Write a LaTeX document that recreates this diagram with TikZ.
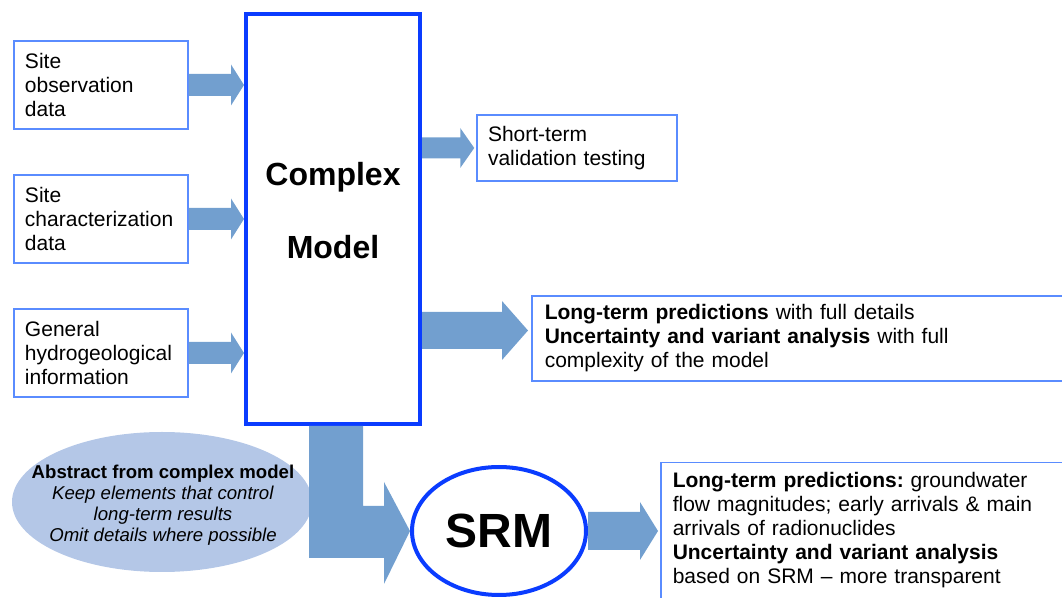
\documentclass[tikz,border=0pt]{standalone}
\usepackage{fontspec}
\setmainfont{Liberation Sans}
\usetikzlibrary{calc,shapes.geometric}
\frenchspacing

\definecolor{boxblue}{RGB}{90,140,255}
\definecolor{modelblue}{RGB}{10,60,255}
\definecolor{flowblue}{RGB}{114,159,207}
\definecolor{abstractblue}{RGB}{180,199,231}

% block arrow: from, tip, shaft half width, head half width, head length
\newcommand{\fatarrow}[5]{%
  \fill[flowblue] ($(#1)+(0,#3)$) -- ($(#2)+(-#5,#3)$) -- ($(#2)+(-#5,#4)$) -- (#2)
    -- ($(#2)+(-#5,-#4)$) -- ($(#2)+(-#5,-#3)$) -- ($(#1)+(0,-#3)$) -- cycle;}

\begin{document}
\begin{tikzpicture}[x=0.5pt, y=-0.5pt,
	every node/.style={font=\fontsize{10.5}{12}\selectfont},
	inbox/.style={draw=boxblue, line width=0.75pt, text width=76pt, inner xsep=5.5pt, minimum height=44pt, align=left},
	outbox/.style={draw=boxblue, line width=0.75pt, align=left}]
	\path[use as bounding box] (0,0) rectangle (1062,598);
	\clip (0,0) rectangle (1062,598);

	\node[inbox] (obs) at (101,85) {Site\\observation\\data};
	\node[inbox] (char) at (101,219) {Site\\characterization\\data};
	\node[inbox] (hydro) at (101,353) {General\\hydrogeological\\information};

	\node[draw=modelblue, line width=2pt, minimum width=87pt, minimum height=205pt] (cm) at (333,219) {};
	\node[font=\fontsize{16}{36.5}\selectfont\bfseries, align=center] (cmtext) at (333,211) {Complex\\Model};

	\node[outbox, text width=89pt, inner xsep=5.5pt, minimum height=33pt] (st) at (577,148) {Short-term\\validation testing};
	\node[outbox, anchor=west, text width=257pt, inner xsep=6.5pt, minimum height=42.5pt] (lt1) at (531,338.5)
		{\textbf{Long-term predictions} with full details\\
		\textbf{Uncertainty and variant analysis} with full\\
		complexity of the model};

	\node[fill=abstractblue, ellipse, inner sep=0pt, minimum width=150pt, minimum height=70pt] (abs) at (162,502) {};
	\node[font=\fontsize{9.3}{10.5}\selectfont, align=center] (abstext) at (163,505)
		{\textbf{Abstract from complex model}\\
		\textit{Keep elements that control}\\
		\textit{long-term results}\\
		\textit{Omit details where possible}};

	\node[ellipse, draw=modelblue, line width=2pt, minimum width=87pt, minimum height=64pt,
		font=\fontsize{24}{28}\selectfont\bfseries] (srm) at (499,531) {SRM};

	\node[outbox, anchor=north west, text width=200pt, inner xsep=6pt, inner ysep=4.8pt] (lt2) at (660,462)
		{\textbf{Long-term predictions:} groundwater\\
		flow magnitudes; early arrivals \& main\\
		arrivals of radionuclides\\
		\textbf{Uncertainty and variant analysis}\\
		based on SRM -- more transparent\\
		\mbox{}};

	\coordinate (obs in) at (obs.east -| cm.west);
	\coordinate (char in) at (char.east -| cm.west);
	\coordinate (hydro in) at (hydro.east -| cm.west);
	\fatarrow{obs.east}{obs in}{11}{20.5}{13}
	\fatarrow{char.east}{char in}{11}{20.5}{13}
	\fatarrow{hydro.east}{hydro in}{11}{20.5}{13}

	\coordinate (st tip) at ($(st.west)+(-2,0)$);
	\coordinate (st out) at (st tip -| cm.east);
	\fatarrow{st out}{st tip}{10.5}{20}{14}

	\coordinate (lt1 tip) at ($(lt1.west)+(-3,-8)$);
	\coordinate (lt1 out) at (lt1 tip -| cm.east);
	\fatarrow{lt1 out}{lt1 tip}{18.5}{29.5}{26}

	\coordinate (lt2 tip) at ($(srm.east -| lt2.west)+(-2,0)$);
	\fatarrow{srm.east}{lt2 tip}{19}{29}{18}

	\coordinate (lbend) at (cm.south |- srm.west);
	\fill[flowblue] ($(cm.south)+(-24,0)$) -- ($(cm.south)+(30,0)$) -- ($(lbend)+(30,-25)$)
		-- ($(srm.west)+(-26,-25)$) -- ($(srm.west)+(-26,-49)$) -- (srm.west)
		-- ($(srm.west)+(-26,53)$) -- ($(srm.west)+(-26,27)$) -- ($(lbend)+(-24,27)$) -- cycle;
\end{tikzpicture}
\end{document}
